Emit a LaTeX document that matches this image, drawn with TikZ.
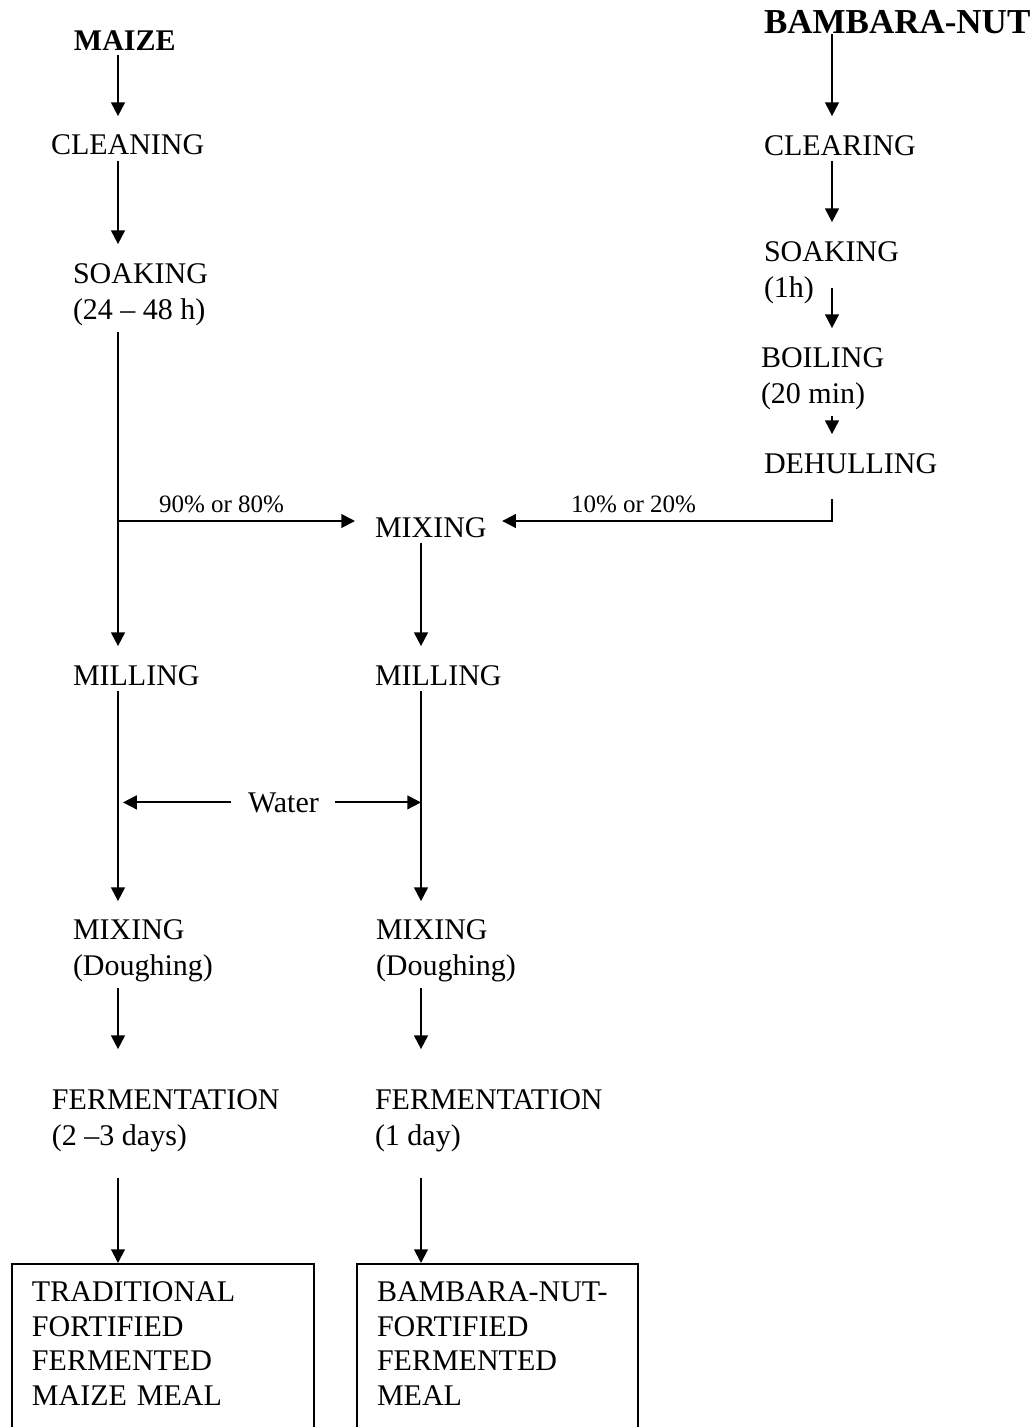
\documentclass[tikz,border=0pt]{standalone}
\usepackage{fontspec}
\setmainfont{Liberation Serif}
\usepackage{tikz}
\usetikzlibrary{arrows.meta}
\tikzset{
	proc/.style={anchor=base west, inner sep=0pt, align=left,
		font=\fontsize{12}{14.4}\selectfont},
	head/.style={proc, font=\bfseries\fontsize{12}{14.4}\selectfont},
	share/.style={anchor=base west, inner sep=0pt,
		font=\fontsize{10}{12}\selectfont},
	flow/.style={-{Triangle[length=5.5pt,width=5.5pt]}},
	prodbox/.style={draw, anchor=north west, align=left, inner xsep=8pt,
		inner ysep=7.2pt, text depth=50pt, font=\fontsize{12}{13.8}\selectfont},
}

\begin{document}
\begin{tikzpicture}[x=0.4pt, y=-0.4pt, line width=0.8pt]

	\useasboundingbox (0,0) rectangle (1034,1427);

	\coordinate (colL) at (118,0);
	\coordinate (colM) at (421,0);
	\coordinate (colR) at (832,0);
	\coordinate (split) at (118,521);
	\coordinate (joinR) at (832,521);

		% maize line (two-line nodes sit on their last baseline)
		\node[head] (maize) at (73,50) {MAIZE};
		\node[proc] (cleanL) at (50,154) {CLEANING};
		\node[proc] (soakL) at (72,319) {SOAKING\\(24 – 48 h)};
		\node[proc] (millL) at (72,685) {MILLING};
		\node[proc] (mixL) at (72,975) {MIXING\\(Doughing)};
		\node[proc] (fermL) at (51,1145) {FERMENTATION\\(2 –3 days)};
		\node[prodbox, text width=104.8pt] (outL) at (11,1263)
			{TRADITIONAL\\FORTIFIED\\FERMENTED\\MAIZE MEAL};

		% bambara-nut line
		\node[head, font=\bfseries\fontsize{14}{16.8}\selectfont] (bambara) at (763,33) {BAMBARA-NUT};
		\node[proc] (clearR) at (763,155) {CLEARING};
		\node[proc] (soakR) at (763,297) {SOAKING\\(1h)};
		\node[proc] (boilR) at (760,403) {BOILING\\(20 min)};
		\node[proc] (dehull) at (763,473) {DEHULLING};

		% blend line
		\node[proc] (mixM) at (374,537) {MIXING};
		\node[proc] (millM) at (374,685) {MILLING};
		\node[proc] (mixR) at (375,975) {MIXING\\(Doughing)};
		\node[proc] (fermR) at (374,1145) {FERMENTATION\\(1 day)};
		\node[prodbox, text width=96.4pt] (outR) at (356,1263)
			{\mbox{BAMBARA-NUT-}\\FORTIFIED\\FERMENTED\\MEAL};

		\node[proc] (water) at (247,812) {Water};
		\node[share] (pctL) at (158,512) {90\% or 80\%};
		\node[share] (pctR) at (570,512) {10\% or 20\%};

		\draw[flow, shorten <=1.6pt, shorten >=6.8pt] (maize.south -| colL) -- (cleanL.north -| colL);
		\draw[flow, shorten <=2.4pt, shorten >=7.2pt] (cleanL.south -| colL) -- (soakL.north -| colL);
		\draw[flow, shorten <=2.4pt, shorten >=7.2pt] (soakL.south -| colL) -- (millL.north -| colL);
		\draw[flow, shorten >=7.6pt] (split) -- (mixM.west |- split);
		\draw[flow, shorten <=2pt, shorten >=6.8pt] (millL.south -| colL) -- (mixL.north -| colL);
		\draw[flow, shorten <=2.2pt, shorten >=15.6pt] (mixL.south -| colL) -- (fermL.north -| colL);
		\draw[flow, shorten <=10.2pt] (fermL.south -| colL) -- (outL.north -| colL);

		\draw[flow, shorten <=2pt, shorten >=7.2pt] (mixM.south -| colM) -- (millM.north -| colM);
		\draw[flow, shorten <=2pt, shorten >=6.8pt] (millM.south -| colM) -- (mixR.north -| colM);
		\draw[flow, shorten <=2.2pt, shorten >=15.6pt] (mixR.south -| colM) -- (fermR.north -| colM);
		\draw[flow, shorten <=10.2pt] (fermR.south -| colM) -- (outR.north -| colM);

		\draw[flow, shorten >=7.2pt] (bambara.south -| colR) -- (clearR.north -| colR);
		\draw[flow, shorten <=2pt, shorten >=7.2pt] (clearR.south -| colR) -- (soakR.north -| colR);
		\draw[flow, shorten <=6.2pt, shorten >=7.2pt] (soakR.center -| colR) -- (boilR.north -| colR);
		\draw[flow, shorten <=2.4pt, shorten >=7.2pt] (boilR.south -| colR) -- (dehull.north -| colR);
		\draw[flow, shorten <=10pt, shorten >=5.8pt] (dehull.south -| colR) -- (joinR) -- (mixM.east |- joinR);

		%\draw[flow] (water) -- (millL);
		\draw[flow, shorten <=6.4pt, shorten >=2pt] (water.west) -- (colL |- water.west);
		\draw[flow, shorten <=6pt] (water.east) -- (colM |- water.east);
\end{tikzpicture}
\end{document}
